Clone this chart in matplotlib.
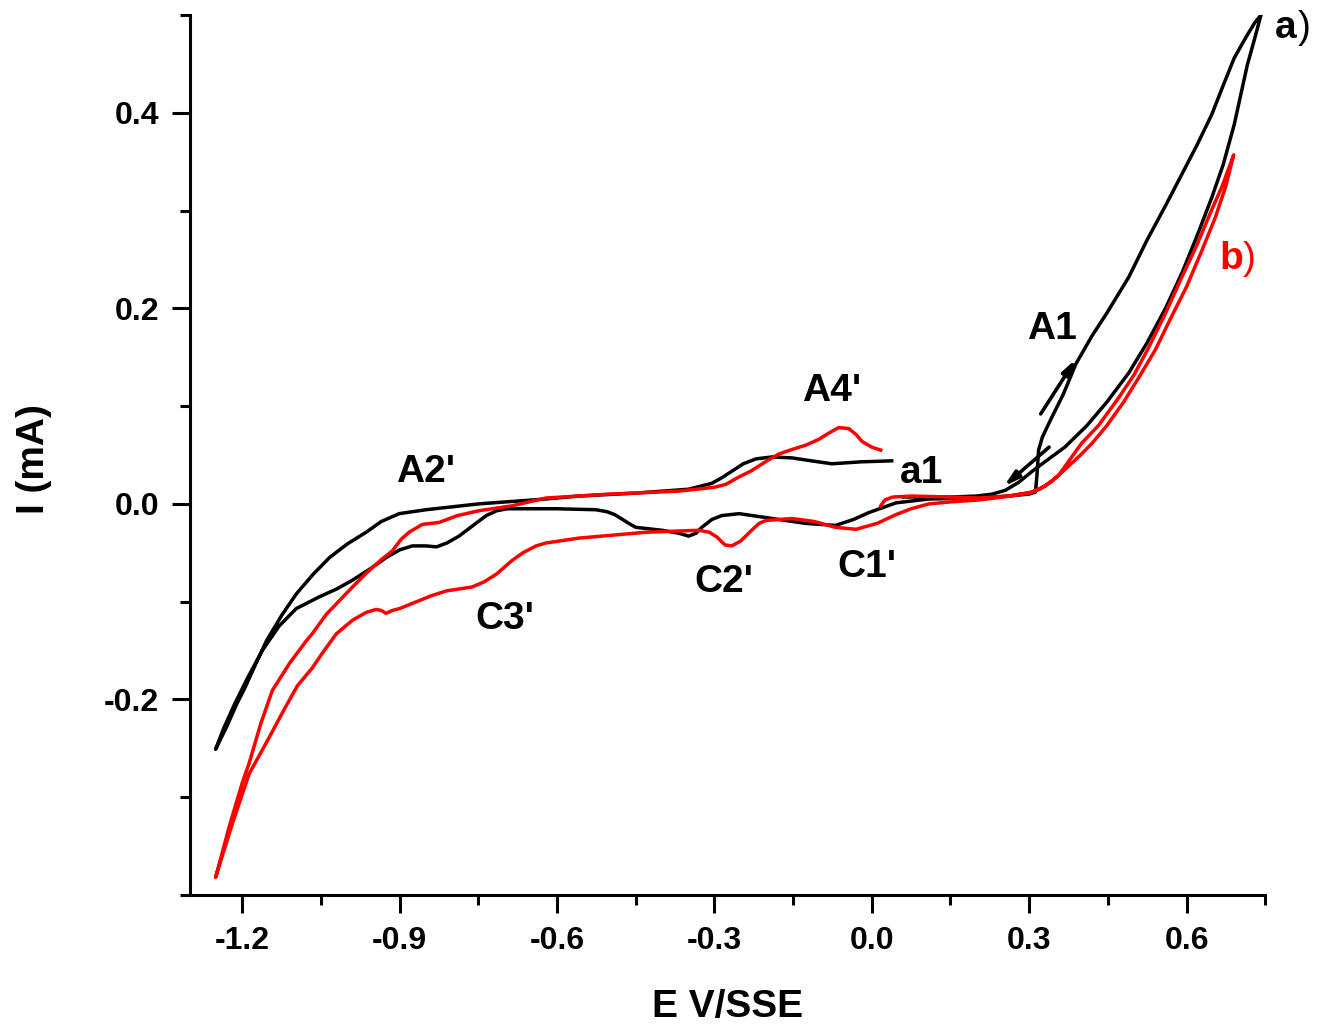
import matplotlib
matplotlib.use('Agg')
import matplotlib.pyplot as plt
from matplotlib.ticker import MultipleLocator

# Cyclic voltammograms, E (V/SSE) vs I (mA)

# curve a) (black)
E_a = [0.038, -0.020, -0.076, -0.115, -0.152, -0.190, -0.221, -0.245, -0.265, -0.285,
       -0.305, -0.349, -0.450, -0.558, -0.621, -0.749, -0.850, -0.901, -0.935, -0.964,
       -1.000, -1.034, -1.065, -1.097, -1.125, -1.154, -1.173, -1.195, -1.211, -1.230,
       -1.251,
       -1.236, -1.215, -1.190, -1.162, -1.130, -1.097, -1.053, -1.020, -0.990, -0.955,
       -0.926, -0.900, -0.876, -0.850, -0.830, -0.810, -0.787, -0.755, -0.735, -0.715,
       -0.695, -0.600, -0.526, -0.505, -0.490, -0.475, -0.460, -0.450, -0.400, -0.368,
       -0.349, -0.335, -0.324, -0.305, -0.286, -0.253, -0.202, -0.126, -0.069, -0.035,
       -0.006, 0.046, 0.109, 0.204, 0.260, 0.300, 0.312,
       0.315, 0.318, 0.325, 0.340, 0.365, 0.389, 0.420, 0.448, 0.490, 0.524,
       0.560, 0.592, 0.620, 0.648, 0.670, 0.691, 0.712, 0.730, 0.742,
       0.730, 0.716, 0.691, 0.670, 0.648, 0.620, 0.592, 0.560, 0.524, 0.490,
       0.448, 0.410, 0.368, 0.335, 0.305, 0.280, 0.255, 0.230, 0.200, 0.150,
       0.100, 0.060]
I_a = [0.044, 0.043, 0.041, 0.044, 0.047, 0.048, 0.046, 0.041, 0.034, 0.027,
       0.021, 0.015, 0.011, 0.008, 0.005, 0.000, -0.006, -0.010, -0.018, -0.029,
       -0.041, -0.055, -0.072, -0.092, -0.114, -0.140, -0.162, -0.188, -0.205, -0.228,
       -0.251,
       -0.230, -0.205, -0.178, -0.150, -0.125, -0.107, -0.095, -0.087, -0.078, -0.066,
       -0.055, -0.047, -0.043, -0.043, -0.044, -0.040, -0.033, -0.020, -0.012, -0.007,
       -0.005, -0.005, -0.006, -0.008, -0.011, -0.016, -0.021, -0.024, -0.027, -0.030,
       -0.033, -0.030, -0.024, -0.016, -0.012, -0.010, -0.014, -0.020, -0.022, -0.016,
       -0.009, 0.001, 0.005, 0.006, 0.008, 0.010, 0.012,
       0.030, 0.055, 0.068, 0.085, 0.112, 0.143, 0.172, 0.195, 0.232, 0.269,
       0.305, 0.338, 0.367, 0.398, 0.428, 0.456, 0.476, 0.492, 0.500,
       0.476, 0.449, 0.388, 0.347, 0.313, 0.274, 0.237, 0.200, 0.164, 0.134,
       0.104, 0.080, 0.058, 0.045, 0.033, 0.022, 0.014, 0.010, 0.008, 0.007,
       0.007, 0.007]

# curve b) (red)
E_b = [0.017, 0.025, 0.040, 0.076, 0.150, 0.204, 0.260, 0.305, 0.330, 0.356,
       0.380, 0.400, 0.432, 0.470, 0.500, 0.528, 0.560, 0.592, 0.620, 0.645,
       0.668, 0.690,
       0.675, 0.655, 0.630, 0.600, 0.570, 0.541, 0.510, 0.480, 0.448, 0.420,
       0.398, 0.370, 0.343, 0.320, 0.299, 0.250, 0.204, 0.150, 0.109, 0.075,
       0.046, 0.010, -0.030, -0.069, -0.110, -0.152, -0.202, -0.215, -0.229, -0.250,
       -0.267, -0.280, -0.295, -0.310, -0.330, -0.430, -0.558, -0.621, -0.640, -0.665,
       -0.686, -0.716, -0.740, -0.762, -0.811, -0.840, -0.863, -0.900, -0.914, -0.926,
       -0.935, -0.945, -0.964, -0.990, -1.021, -1.048, -1.067, -1.095, -1.120, -1.150,
       -1.187, -1.219, -1.251,
       -1.225, -1.200, -1.187, -1.165, -1.143, -1.110, -1.078, -1.067, -1.040, -1.015,
       -0.990, -0.964, -0.935, -0.914, -0.897, -0.882, -0.857, -0.825, -0.790, -0.749,
       -0.686, -0.621, -0.500, -0.368, -0.300, -0.278, -0.255, -0.229, -0.200, -0.177,
       -0.150, -0.126, -0.101, -0.080, -0.063, -0.044, -0.030, -0.019, 0.000, 0.017]
I_b = [-0.002, 0.004, 0.007, 0.008, 0.007, 0.006, 0.008, 0.012, 0.018, 0.029,
       0.047, 0.062, 0.080, 0.108, 0.132, 0.160, 0.195, 0.233, 0.265, 0.297,
       0.325, 0.357,
       0.325, 0.293, 0.260, 0.222, 0.190, 0.158, 0.130, 0.104, 0.080, 0.062,
       0.050, 0.036, 0.023, 0.015, 0.011, 0.007, 0.004, 0.002, 0.000, -0.005,
       -0.011, -0.020, -0.026, -0.024, -0.018, -0.015, -0.017, -0.020, -0.027, -0.038,
       -0.043, -0.042, -0.034, -0.029, -0.027, -0.029, -0.035, -0.040, -0.043, -0.050,
       -0.058, -0.072, -0.080, -0.085, -0.089, -0.094, -0.099, -0.107, -0.109, -0.112,
       -0.109, -0.108, -0.111, -0.119, -0.133, -0.153, -0.168, -0.186, -0.210, -0.240,
       -0.276, -0.327, -0.382,
       -0.330, -0.285, -0.265, -0.225, -0.191, -0.163, -0.140, -0.133, -0.113, -0.099,
       -0.085, -0.071, -0.057, -0.048, -0.036, -0.029, -0.021, -0.019, -0.012, -0.007,
       -0.002, 0.006, 0.010, 0.013, 0.017, 0.020, 0.027, 0.034, 0.044, 0.051,
       0.056, 0.060, 0.066, 0.073, 0.078, 0.077, 0.071, 0.064, 0.058, 0.055]

peak_labels = ["A2'", "C3'", "C2'", "A4'", "C1'", "a1", "A1"]
peak_E = [-0.851, -0.700, -0.282, -0.076, -0.010, 0.095, 0.343]
peak_I = [0.033, -0.118, -0.080, 0.115, -0.065, 0.032, 0.179]

plt.rcParams['font.family'] = ['Liberation Sans', 'DejaVu Sans']
plt.rcParams['font.weight'] = 'bold'

fig = plt.figure(figsize=(13.28, 10.26), dpi=100)
ax = fig.add_axes([0.143, 0.1277, 0.8097, 0.8577])

ax.plot(E_a, I_a, color='black', lw=2.5, solid_joinstyle='round')
ax.plot(E_b, I_b, color='#ff0000', lw=2.5, solid_joinstyle='round')

for lab, e, i in zip(peak_labels, peak_E, peak_I):
    ax.text(e, i, lab, fontsize=28, fontweight='bold', ha='center', va='center')

# curve names, the bracket is not bold in the original
ax.text(0.768, 0.487, 'a', fontsize=28, fontweight='bold', va='center', clip_on=False)
ax.text(0.812, 0.487, ')', fontsize=28, fontweight='normal', va='center', clip_on=False)
ax.text(0.662, 0.250, 'b', fontsize=28, fontweight='bold', va='center', color='#ff0000')
ax.text(0.707, 0.250, ')', fontsize=28, fontweight='normal', va='center', color='#ff0000')

# sweep direction arrows near A1
arw = dict(arrowstyle='-|>,head_length=0.9,head_width=0.25', lw=2.6, color='black',
           shrinkA=0, shrinkB=0)
ax.annotate('', xy=(0.389, 0.148), xytext=(0.322, 0.092), arrowprops=arw)
ax.annotate('', xy=(0.252, 0.018), xytext=(0.338, 0.058), arrowprops=arw)

ax.set_xlim(-1.3, 0.75)
ax.set_ylim(-0.4, 0.5)
ax.xaxis.set_major_locator(MultipleLocator(0.3))
ax.xaxis.set_minor_locator(MultipleLocator(0.15))
ax.yaxis.set_major_locator(MultipleLocator(0.2))
ax.yaxis.set_minor_locator(MultipleLocator(0.1))
ax.set_yticks([-0.2, 0.0, 0.2, 0.4])
ax.yaxis.set_major_formatter(plt.FormatStrFormatter('%.1f'))
ax.xaxis.set_major_formatter(plt.FormatStrFormatter('%.1f'))

for side in ['top', 'right']:
    ax.spines[side].set_visible(False)
for side in ['left', 'bottom']:
    ax.spines[side].set_linewidth(2.2)

ax.tick_params(which='major', direction='out', length=13, width=2.2, pad=9, labelsize=23)
ax.tick_params(which='minor', direction='out', length=7, width=2.2)
for lbl in ax.get_xticklabels() + ax.get_yticklabels():
    lbl.set_fontweight('bold')

ax.set_xlabel('E V/SSE', fontsize=28, fontweight='bold')
ax.set_ylabel('I (mA)', fontsize=28, fontweight='bold')
ax.xaxis.set_label_coords(0.5, -0.107)
ax.yaxis.set_label_coords(-0.128, 0.495)

fig.savefig('out.png', dpi=100, facecolor='white')
